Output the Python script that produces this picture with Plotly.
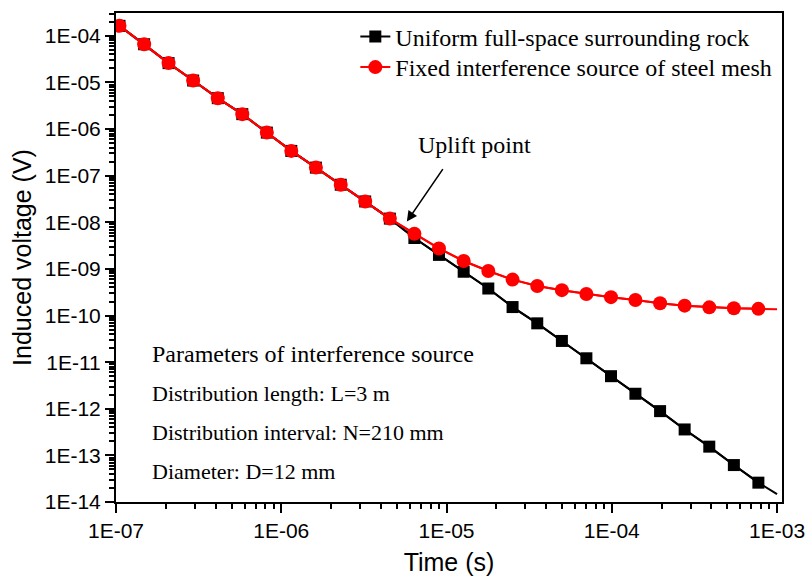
import plotly.graph_objects as go

# Time (s) of the plotted markers
times = [1.05e-7, 1.48e-7, 2.08e-7, 2.93e-7, 4.13e-7, 5.81e-7, 8.18e-7,
         1.15e-6, 1.62e-6, 2.29e-6, 3.22e-6, 4.54e-6, 6.39e-6, 9.0e-6,
         1.27e-5, 1.79e-5, 2.51e-5, 3.54e-5, 4.99e-5, 7.02e-5, 9.89e-5,
         1.39e-4, 1.96e-4, 2.76e-4, 3.89e-4, 5.48e-4, 7.71e-4]

uniform = [1.64e-4, 6.6e-5, 2.6e-5, 1.1e-5, 4.6e-6, 2.09e-6, 8.4e-7,
           3.4e-7, 1.49e-7, 6.4e-8, 2.8e-8, 1.2e-8, 4.6e-9, 2.0e-9,
           8.7e-10, 3.8e-10, 1.52e-10, 6.8e-11, 2.85e-11, 1.21e-11, 5.0e-12,
           2.1e-12, 8.9e-13, 3.6e-13, 1.54e-13, 6.2e-14, 2.6e-14]

steel = [1.64e-4, 6.6e-5, 2.6e-5, 1.1e-5, 4.6e-6, 2.09e-6, 8.4e-7,
         3.4e-7, 1.49e-7, 6.4e-8, 2.8e-8, 1.2e-8, 5.7e-9, 2.75e-9,
         1.48e-9, 9.0e-10, 5.9e-10, 4.3e-10, 3.5e-10, 2.9e-10, 2.48e-10,
         2.16e-10, 1.84e-10, 1.63e-10, 1.5e-10, 1.43e-10, 1.39e-10]

# curve end points (the line continues past the markers to the axis edges)
t_start, t_end = 1e-7, 1e-3
uniform_start, uniform_end = 1.85e-4, 1.47e-14
steel_start, steel_end = 1.85e-4, 1.37e-10

names = ["Uniform full-space surrounding rock",
         "Fixed interference source of steel mesh"]

x_tickvals = [1e-7, 1e-6, 1e-5, 1e-4, 1e-3]
x_ticktext = ["1E-07", "1E-06", "1E-05", "1E-04", "1E-03"]
y_tickvals = [1e-14, 1e-13, 1e-12, 1e-11, 1e-10, 1e-9, 1e-8, 1e-7, 1e-6, 1e-5, 1e-4]
y_ticktext = ["1E-14", "1E-13", "1E-12", "1E-11", "1E-10", "1E-09",
              "1E-08", "1E-07", "1E-06", "1E-05", "1E-04"]

params_title = "Parameters of interference source"
params_lines = ["Distribution length: L=3 m",
                "Distribution interval: N=210 mm",
                "Diameter: D=12 mm"]

serif = "Liberation Serif"
sans = "Liberation Sans"

# plot-area pixel geometry (used only to place text in paper coordinates)
PX_L, PX_W, PX_B, PX_H = 115.5, 666.5, 502, 489
def px(xp):
    return (xp - PX_L) / PX_W
def py(yp):
    return (PX_B - yp) / PX_H

fig = go.Figure()

# black series
fig.add_trace(go.Scatter(x=[t_start] + times + [t_end],
                         y=[uniform_start] + uniform + [uniform_end],
                         mode="lines", line=dict(color="black", width=2),
                         showlegend=False, hoverinfo="skip"))
fig.add_trace(go.Scatter(x=times, y=uniform, mode="lines+markers", name=names[0],
                         line=dict(color="black", width=2), legend="legend",
                         marker=dict(symbol="square", size=12, color="black")))
# red series
fig.add_trace(go.Scatter(x=[t_start] + times + [t_end],
                         y=[steel_start] + steel + [steel_end],
                         mode="lines", line=dict(color="red", width=2),
                         showlegend=False, hoverinfo="skip"))
fig.add_trace(go.Scatter(x=times, y=steel, mode="lines+markers", name=names[1],
                         line=dict(color="red", width=2), legend="legend2",
                         marker=dict(symbol="circle", size=14, color="red")))

axis_common = dict(type="log", showgrid=False, zeroline=False, automargin=False,
                   showline=True, linecolor="black", linewidth=2, mirror=True,
                   ticks="outside", ticklen=9, tickwidth=2, tickcolor="black",
                   tickfont=dict(family=sans, size=21, color="black"),
                   minor=dict(ticks="outside", ticklen=5, tickwidth=1.5,
                              tickcolor="black", dtick="D1", showgrid=False))

fig.update_xaxes(**axis_common, range=[-7, -2.97], tickvals=x_tickvals, ticktext=x_ticktext,
                 title=dict(text="Time (s)", font=dict(family=sans, size=25, color="black"),
                            standoff=12))
fig.update_yaxes(**axis_common, range=[-14, -3.51], tickvals=y_tickvals, ticktext=y_ticktext,
                 title=dict(text="Induced voltage (V)", font=dict(family=sans, size=25, color="black"),
                            standoff=6))

# "Uplift point" arrow and label
fig.add_annotation(x=-5.24, y=-7.985, xref="x", yref="y", text="", showarrow=True,
                   ax=37, ay=-54, arrowhead=2, arrowsize=1.3, arrowwidth=1.6,
                   arrowcolor="black")
fig.add_annotation(x=px(474), y=py(145), xref="paper", yref="paper",
                   xanchor="center", yanchor="middle",
                   text="Uplift point", showarrow=False,
                   font=dict(family=serif, size=24, color="black"))

# parameters text block
fig.add_annotation(x=px(150), y=py(354), xref="paper", yref="paper",
                   xanchor="left", yanchor="middle", text=params_title, showarrow=False,
                   font=dict(family=serif, size=24, color="black"))
for txt, yp in zip(params_lines, [393, 432, 471]):
    fig.add_annotation(x=px(150), y=py(yp), xref="paper", yref="paper",
                       xanchor="left", yanchor="middle", text=txt, showarrow=False,
                       font=dict(family=serif, size=22, color="black"))

legend_style = dict(xanchor="left", yanchor="middle", bgcolor="rgba(0,0,0,0)",
                    font=dict(family=serif, size=24, color="black"))
fig.update_layout(
    width=806, height=580,
    margin=dict(l=116, r=24, t=13, b=78),
    paper_bgcolor="white", plot_bgcolor="white",
    legend=dict(x=px(355), y=py(37), **legend_style),
    legend2=dict(x=px(355), y=py(67.5), **legend_style),
)

fig.write_html("out.html")
